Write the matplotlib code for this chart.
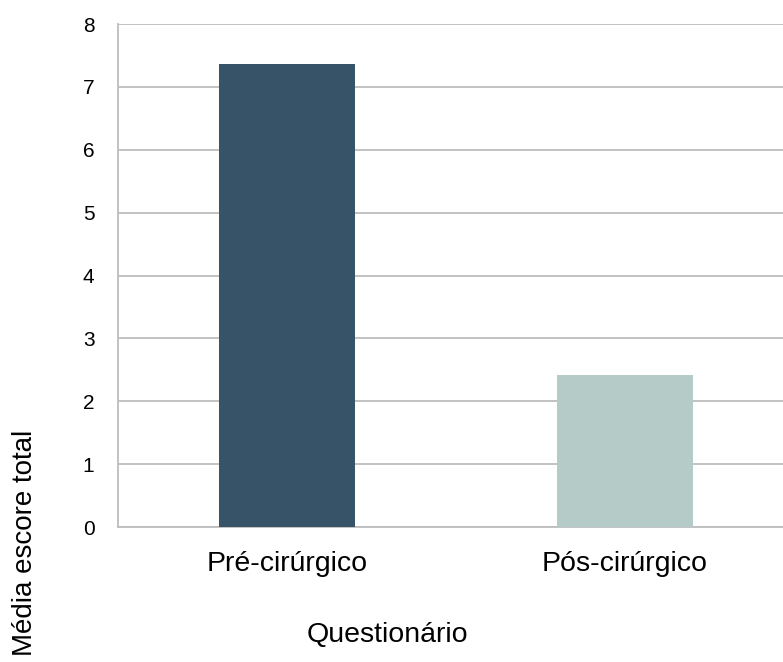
import matplotlib.pyplot as plt

plt.rcParams["font.family"] = ["Liberation Sans", "DejaVu Sans"]

categorias = ["Pré-cirúrgico", "Pós-cirúrgico"]
medias = [7.36, 2.42]
cores = ["#375368", "#b4cbc8"]
y_ticks = [0, 1, 2, 3, 4, 5, 6, 7, 8]

grid_color = "#bdbdbd"

fig = plt.figure(figsize=(7.83, 6.62), dpi=100)
ax = fig.add_axes([0.1507, 0.2039, 0.8633, 0.7598])

x = range(len(categorias))
ax.bar(x, medias, width=0.4, color=cores, zorder=3)

ax.set_xlim(-0.5, 1.5)
ax.set_ylim(0, 8)
ax.set_yticks(y_ticks)
ax.set_xticks(list(x))
ax.set_xticklabels(categorias)

ax.grid(axis="y", color=grid_color, linewidth=1.3, zorder=0)
for side in ["top", "right"]:
    ax.spines[side].set_visible(False)
for side in ["left", "bottom"]:
    ax.spines[side].set_color(grid_color)
    ax.spines[side].set_linewidth(1.3)

ax.tick_params(axis="y", length=0, pad=17, labelsize=15)
ax.tick_params(axis="x", length=0, pad=17, labelsize=20.5)

fig.text(387 / 783, 1 - 635 / 662, "Questionário", ha="center", va="center", fontsize=20.5)
fig.text(25 / 783, 1 - 543 / 662, "Média escore total", ha="center", va="center",
         rotation=90, fontsize=20)

fig.savefig("out.png", dpi=100)
